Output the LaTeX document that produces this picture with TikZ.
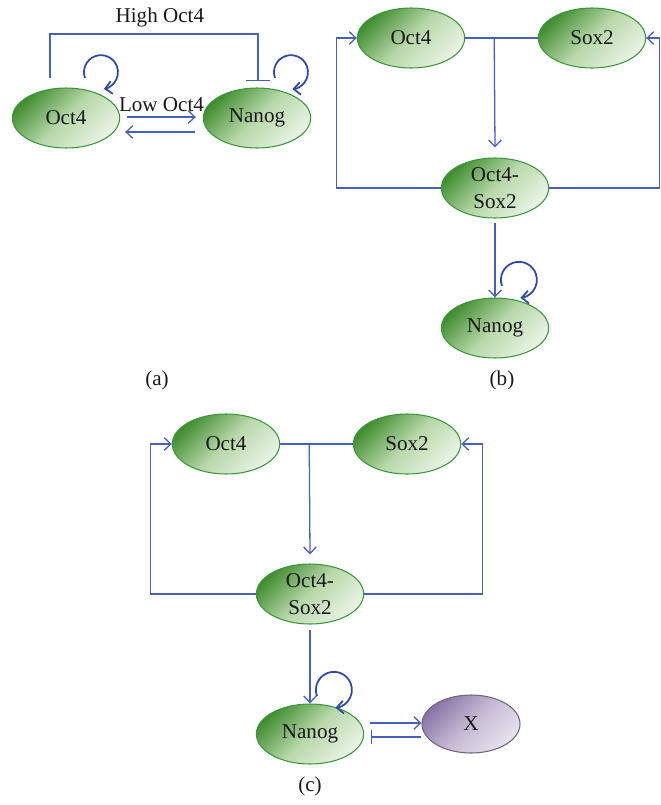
\documentclass[tikz,border=0pt]{standalone}
\usepackage{fontspec}
\setmainfont{Liberation Serif}
\usepackage{tikz}
\usetikzlibrary{shapes.geometric, arrows.meta, calc, positioning}

\definecolor{edgeblue}{RGB}{72,96,184}
\definecolor{loopblue}{RGB}{44,74,166}
\definecolor{gdark}{RGB}{66,142,50}
\definecolor{gmid}{RGB}{184,216,170}
\definecolor{glight}{RGB}{234,243,229}
\definecolor{gborder}{RGB}{58,150,58}
\definecolor{pdark}{RGB}{136,118,166}
\definecolor{pmid}{RGB}{198,186,212}
\definecolor{plight}{RGB}{232,226,238}
\definecolor{pborder}{RGB}{108,102,126}

\begin{document}
\begin{tikzpicture}[ x = 0.03cm, y = -0.03cm
                     , font = \fontsize{18}{23}\selectfont
                     , >={Straight Barb[length=2mm, width=3.8mm]}
                     , every node/.style = {text = black!90, align = center}
                     , gene/.style = { ellipse, draw = gborder, line width = 0.9pt
                                     , minimum width = 3.22cm, minimum height = 1.8cm
                                     , inner sep = 0pt
                                     , top color = gdark, bottom color = glight
                                     , middle color = gmid, shading angle = 45 }
                     , partner/.style = { gene, draw = pborder
                                        , top color = pdark, bottom color = plight
                                        , middle color = pmid, shading angle = 45
                                        , minimum width = 2.94cm, minimum height = 1.74cm }
                     , act/.style = {draw = edgeblue, line width = 1.1pt, ->}
                     , inhib/.style = {draw = edgeblue, line width = 1.1pt, -{Bar[width=#1]}}
                     , inhib/.default = 4.2mm
                     , selfloop/.style = {draw = loopblue, line width = 1.5pt, ->}
                     ]

  \useasboundingbox (0,0) rectangle (660,805);

  \node (aoct) [gene] at (66,118) {Oct4};
  \node (anan) [gene] at (257,118) {Nanog};
  \node (alabel) at (157,380) {(a)};

  \node (boct) [gene] at (411,38) {Oct4};
  \node (bsox) [gene] at (592,38) {Sox2};
  \node (bcomp) [gene] at (495,188) {Oct4-\\Sox2};
  \node (bnan) [gene] at (495,328) {Nanog};
  \node (blabel) at (502,380) {(b)};

  \node (coct) [gene] at (226,444) {Oct4};
  \node (csox) [gene] at (407,444) {Sox2};
  \node (ccomp) [gene] at (310,594) {Oct4-\\Sox2};
  \node (cnan) [gene] at (310,734) {Nanog};
  \node (cx) [partner] at (471,724) {X};
  \node (clabel) at (310,786) {(c)};

  \coordinate (bjoin) at ($(boct.east)!0.4!(bsox.west)$);
  \coordinate (cjoin) at ($(coct.east)!0.4!(csox.west)$);

  \draw[inhib=7mm] ([shift={(-16,-40)}]aoct.center) -- ++(0,-44)
  -| node [pos=0.25, above=2pt, xshift=5pt] {High Oct4}
  ([shift={(1,-37)}]anan.center);

  \draw[act] ([shift={(7,-1)}]aoct.east)
  -- node [above=4pt, inner sep=0pt] {Low Oct4}
  ([shift={(-7,-1)}]anan.west);
  \draw[act] ([shift={(-8,14)}]anan.west) -- ([shift={(5,14)}]aoct.east);

  \draw[selfloop] ([shift={(19,-40)}]aoct.center) arc[start angle=160, end angle=440, radius=17];
  \draw[selfloop] ([shift={(18,-40)}]anan.center) arc[start angle=160, end angle=445, radius=17];

  \draw[draw = edgeblue, line width = 1.1pt] (boct.east) -- (bsox.west);
  \draw[act] (bjoin) -- ([shift={(0,-10)}]bcomp.north);
  \draw[act] (bcomp.west) -- ++(-104,0) |- (boct.west);
  \draw[act] (bcomp.east) -- ++(110,0) |- (bsox.east);
  \draw[act] ([shift={(0,4)}]bcomp.south) -- (bnan.north);
  \draw[selfloop] ([shift={(7,-42)}]bnan.center) arc[start angle=160, end angle=445, radius=18];

  \draw[draw = edgeblue, line width = 1.1pt] (coct.east) -- (csox.west);
  \draw[act] (cjoin) -- ([shift={(0,-9)}]ccomp.north);
  \draw[act] (ccomp.west) -- ++(-105,0) |- (coct.west);
  \draw[act] (ccomp.east) -- ++(118,0) |- (csox.east);
  \draw[act] ([shift={(0,5)}]ccomp.south) -- (cnan.north);
  \draw[selfloop] ([shift={(7,-38)}]cnan.center) arc[start angle=160, end angle=445, radius=18];

  \draw[act] ([shift={(6,-11)}]cnan.east) -- ([shift={(0,-1)}]cx.west);
  \draw[inhib] ([shift={(0,13)}]cx.west) -- ([shift={(7,3)}]cnan.east);

\end{tikzpicture}
\end{document}
